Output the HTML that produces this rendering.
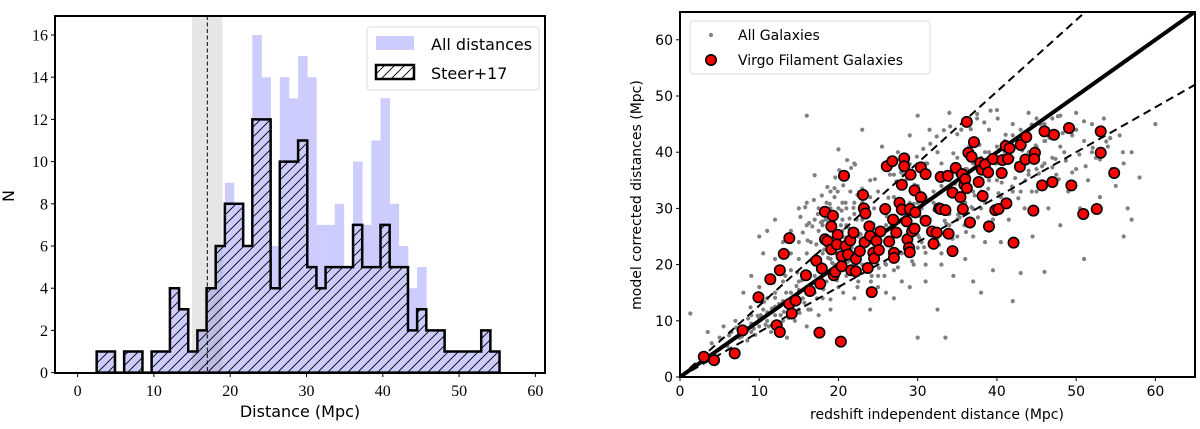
<!DOCTYPE html>
<html><head><meta charset="utf-8"><style>
html,body{margin:0;padding:0;background:#fff;}
svg{display:block;}
.serif{font-family:"Liberation Serif",serif;}
.sans{font-family:"DejaVu Sans","Liberation Sans",sans-serif;}
</style></head><body>
<svg id="fig" width="1200" height="429" viewBox="0 0 1200 429" xmlns="http://www.w3.org/2000/svg">
<defs>
<pattern id="hatch" patternUnits="userSpaceOnUse" width="10" height="10">
<path d="M-2,12 L12,-2 M-7,7 L7,-7 M3,17 L17,3" stroke="#000" stroke-width="0.9"/>
</pattern>
<clipPath id="clipR"><rect x="680" y="12" width="515" height="365"/></clipPath>
</defs>
<g id="left"></g>
<g id="right"></g>
</svg>
<script>
// ---- Left histogram data ----
const binStart = 2.5;
const binWidth = 1.2;
const steerCounts = [1,1,0,1,1,0,1,1,4,3,1,2,4,6,8,8,6,12,12,4,10,10,11,5,4,5,5,5,7,5,5,7,5,5,2,3,2,2,1,1,1,1,2,1];
const allCounts = [1,1,0,1,1,0,1,1,4,3,1,2,4,6,9,8,6,16,14,6,14,13,15,14,7,7,8,5,10,7,11,13,8,6,4,5,2,2,1,1,1,1,2,1];
const histXTicks = [0,10,20,30,40,50,60];
const histYTicks = [0,2,4,6,8,10,12,14,16];
const bandRange = [15,19];
const markerDistance = 17;

// ---- Right scatter data ----
const virgoX = [3.0,4.3,6.9,7.9,9.9,11.4,12.2,12.6,12.6,13.1,13.8,13.8,14.1,14.6,15.9,16.4,17.2,17.6,17.7,17.9,18.3,18.3,18.6,19.1,19.1,19.3,19.4,19.6,19.9,19.8,20.3,20.4,20.4,20.7,20.9,21.2,21.6,21.5,21.9,22.2,22.2,22.7,23.1,23.2,23.4,23.3,23.7,23.9,24.0,24.2,24.4,24.5,24.8,25.1,25.3,25.9,26.1,26.4,26.8,26.9,27.0,27.0,27.3,27.7,28.0,28.0,28.3,28.3,28.6,28.7,28.9,29.0,29.0,29.1,29.3,29.6,29.6,29.7,30.4,30.4,31.0,31.0,31.8,32.0,32.4,32.7,32.9,32.9,33.5,33.8,33.9,34.4,34.4,34.8,35.4,35.6,35.7,35.9,36.0,36.2,36.2,36.4,36.6,36.8,37.1,37.7,37.9,38.1,38.2,38.5,38.9,39.0,39.5,39.8,40.2,40.6,40.7,41.1,41.2,41.4,41.6,42.1,42.9,43.0,43.6,43.7,44.6,44.8,44.7,45.7,46.0,47.0,47.2,49.1,49.4,50.9,52.6,53.1,53.1,54.8];
const virgoY = [3.6,3.0,4.2,8.3,14.2,17.4,9.2,8.0,19.0,21.9,24.7,13.0,11.3,13.6,18.1,15.3,20.7,7.9,16.6,19.3,29.4,24.5,24.2,22.7,26.8,28.7,18.1,18.7,25.3,23.6,6.3,21.5,19.7,35.8,23.3,21.8,19.0,24.3,25.7,21.0,18.8,22.4,32.4,30.0,29.1,24.0,19.4,26.8,25.1,15.1,22.1,21.1,24.2,22.6,25.9,29.9,37.5,24.1,38.4,28.0,22.1,21.2,25.7,31.0,34.2,29.8,38.9,37.5,27.7,24.5,23.0,29.9,22.2,36.0,25.9,26.4,33.2,29.3,37.3,32.0,36.1,27.8,25.9,23.7,25.7,30.0,35.6,29.9,29.7,35.8,25.5,22.4,32.8,37.2,32.0,36.1,29.9,34.2,35.2,45.4,33.6,39.9,27.5,39.2,41.8,34.7,38.1,36.9,32.2,37.8,36.4,26.8,38.8,29.7,29.9,36.3,38.6,41.1,30.9,38.8,40.7,23.9,37.4,41.3,38.7,42.7,29.6,39.9,38.8,34.1,43.7,34.7,43.1,44.3,34.1,29.0,29.9,43.7,39.9,36.3];
const allX = [1.3,3.5,4,5,6,5.5,6.5,7,7.5,8,8.5,9,9,9.5,10,10.5,10,11,11,11.5,12,12,12.5,13,13,13.5,14,14,14.5,15,15,15,15.5,16,16,16,16.5,16.5,17,17,17,17.5,17.5,18,18,18,18.5,18.5,19,19,19,19.5,19.5,20,20,20,20.5,20.5,21,21,21,21.5,21.5,22,22,22,22.5,22.5,23,23,23,23.5,24,24,24.5,24.5,25,25,25.5,25.5,26,26,26.5,26.5,27,27,27.5,27.5,28,28,28.5,28.5,29,29,29.5,29.5,30,30,30,30.5,30.5,31,31,31.5,31.5,32,32,32.5,32.5,33,33,33.5,33.5,34,34,34.5,34.5,35,35,35.5,35.5,36,36,36.5,36.5,37,37,37.5,37.5,38,38,38.5,38.5,39,39,39.5,39.5,40,40,40.5,40.5,41,41,41.5,42,42,42,42.5,43,43,43.5,44,44,44.5,45,45,45.5,46,46,46.5,47,47.5,48,48,48.5,49,49.5,50,50,50.5,51,51,51.5,52,52.5,53,53.5,54,54.5,55,55.5,56,56,56.5,57,57,58,60,20,21,22,23,24,25,26,27,28,29,30,31,32,33,34,35,36,37,38,39,40,41,42,43,44,45,46,47,18,19,17,16,15,14,13,12,11,10,9,8,18,19,20,18.5,19.5,20.5,21,17.5,22,23,24,26,28,27,33,36,38,40,42,44,46,48,50,52,35,37,39,41,43,45,47,26,28,30,32,34,25,27,29,31,33,14,13,12,11,12,14,15,16,16,13,15,10.5,9,8,10];
const allY = [11.3,8,6,7,5.5,9,8,10,7,9,6.5,8,11,7.5,9,12,16,10,14,8,11,15,13,10,17,7,15,19,10,12,17,21,14,9,18,46.5,12,24,15,20,28,11,30,14,22,27,17,31,12,26,33,20,29,16,40.5,24,31,28,18,36,27,22,33,14,29,38,25,17,44,31,20,27,35,12,23,30,18,33,41,26,15,29,36,22,19,32,40,26,17,29,35,23,43,31,20,27,46.5,34,7,24,30,38,20,28,44,33,25,12,40,30,22,36,7,27,47,33,18,39,25,30,44,35,21,41,28,33,17,46,37,30,15,40,24,35,44,28,19,47.5,38,32,24,42,36,28,45,33,13.5,38,18.5,42,30,47,36,25,41,33,45,38,18.7,30,43,36,46.5,27,40,33,43,37,47,30,21,42,35,45,39,32,46,41,37,34,43,38,25,30,40,28,35.5,45,21,23,22,24,26,25,27,28,30,29,31,32,31,34,35,36,37,38,39,40,41,40,43,44,43,46,45,46,20,21,18,16,15.5,13,13.5,12.5,11.5,10.5,9.5,8.5,30,30,30,28,32,26,30,26,31,28,32,37,34,36,38,31,33,35,39,40,42,41,44,40,28,25,26,31,33,37,39,20,22,23,26,29,16,14,16,17,20,22,24,21,26,28,26,30,31,27,19,24,22,18,15,25];
const extraX = [15.2,15.8,16.3,16.9,17.4,17.9,18.4,18.9,19.4,19.9,20.4,20.9,21.4,21.9,22.4,15.5,16.1,16.7,17.2,17.8,18.3,18.8,19.3,19.8,20.3,20.8,21.3,21.8,22.3,22.8,16.0,16.6,17.1,17.7,18.2,18.7,19.2,19.7,20.2,20.7,21.2,21.7,22.2,14.8,15.4,6.2,7.1,7.8,8.6,9.3,10.2,10.8,11.6,12.3,13.1,13.7,14.3,15.1,15.7,16.2,9.8,10.6,11.2,12.0,12.7,13.4,14.0,14.7,8.9,11.8,13.3,17.3,18.1,19.0,19.8,20.6,21.5,22.4,23.3,24.1,25.0,25.8,26.7,27.5,23.6,24.4,25.3,26.1,27.0,27.8,28.7,29.5,30.4,31.2,32.1,33.0,33.8,34.7,35.5,36.4,37.2,38.1,38.9,39.8,40.6,41.5,42.3,43.2,44.0,44.9,45.7,46.6,47.4,48.3,29.1,30.0,30.8,31.7,32.5,33.4,34.2,35.1,35.9,36.8,37.6,38.5,39.3,40.2,41.0,41.9,42.7,43.6,44.4,45.3,46.1,47.0,47.8,48.7,49.5,50.4,51.2,52.1,53.0,53.8,27.3,28.2,29.0,29.9,30.7,31.6,32.4,33.3,34.1,35.0,35.8,36.7,37.5,38.4,39.2,40.1,24.2,25.1,25.9,26.8,27.6,28.5,29.3,30.2,31.0,31.9,32.7,33.6,34.4,35.3,36.1,37.0,23.0,24.6,26.3,27.9,29.6,31.2,32.9,34.5,36.2,37.8,39.5,41.1,42.8,44.4,46.1,47.7,49.4,51.0,52.7,54.3,55.9,18.6,19.6,20.6,21.6,22.6,17.0,18.0,19.5,20.1,21.1,22.1,23.1];
const extraY = [28.5,30.2,27.4,31.5,29.0,32.3,28.1,30.8,27.0,33.0,29.6,31.0,28.2,30.1,32.4,25.7,24.3,26.8,23.6,27.5,25.0,24.2,26.1,23.0,27.0,24.8,26.5,23.7,28.0,25.4,22.0,20.8,21.6,19.7,22.7,21.2,20.3,22.0,19.3,21.5,20.5,23.0,19.9,18.6,17.2,7.4,8.8,7.2,10.4,8.6,11.0,9.3,12.2,9.8,11.6,10.5,12.8,11.4,13.2,12.0,10.9,13.4,9.0,14.1,11.0,15.0,12.6,16.2,12.4,16.8,18.0,14.0,15.6,13.8,17.2,15.0,18.6,16.0,19.5,17.0,21.0,18.0,21.8,19.5,25.5,27.2,24.0,28.6,26.0,29.5,27.1,30.8,28.5,31.6,29.7,33.0,30.2,34.4,31.5,35.8,32.3,36.9,33.5,38.0,34.6,39.1,35.4,40.3,36.7,41.2,37.5,42.6,38.8,43.4,24.0,25.3,23.1,26.4,24.7,27.8,25.9,28.9,27.0,30.2,28.4,31.0,29.5,32.7,30.6,33.9,31.8,35.0,33.0,36.2,34.1,37.3,35.2,38.5,36.4,39.6,37.5,40.8,38.7,41.9,34.8,36.0,37.9,39.2,40.6,41.5,42.8,43.9,44.6,43.2,45.7,44.1,46.8,45.3,47.4,46.0,18.0,19.4,20.2,21.6,22.3,23.4,20.6,24.8,22.1,26.0,23.5,27.3,24.6,28.4,25.8,29.9,33.5,35.2,31.9,36.4,34.2,38.0,35.1,39.8,37.0,41.3,38.9,43.1,40.6,44.9,42.0,46.4,43.5,45.5,44.0,42.5,40.0,33.8,35.5,34.1,37.2,32.9,35.9,27.7,33.6,36.8,38.6,37.8];
const scatterTicks = [0,10,20,30,40,50,60];
const upperSlope = 1.27;
const lowerSlope = 0.80;

const NS = 'http://www.w3.org/2000/svg';
function mk(parent, tag, attrs, text){
  const e = document.createElementNS(NS, tag);
  for (const k in attrs) e.setAttribute(k, attrs[k]);
  if (text !== undefined) e.textContent = text;
  parent.appendChild(e);
  return e;
}

// ===== LEFT =====
const L = document.getElementById('left');
const xL = v => 77.6 + 7.63 * v;
const yL = n => 372.6 - 21.1 * n;
const LB = {x0:55, x1:545, y0:16, y1:373};

allCounts.forEach((c, i) => {
  if (c <= 0) return;
  const x0 = xL(binStart + i * binWidth), x1 = xL(binStart + (i + 1) * binWidth);
  const r = mk(L, 'rect', {x:x0, y:yL(c), width:x1 - x0 + 0.3, height:yL(0) - yL(c), fill:'#ccccff'});
  
  
});

const band = mk(L, 'rect', {x:xL(bandRange[0]), y:LB.y0, width:xL(bandRange[1]) - xL(bandRange[0]), height:LB.y1 - LB.y0, fill:'#808080', 'fill-opacity':'0.2'});



let d = 'M' + xL(binStart) + ',' + yL(0);
steerCounts.forEach((c, i) => {
  const x0 = xL(binStart + i * binWidth), x1 = xL(binStart + (i + 1) * binWidth);
  d += ' L' + x0 + ',' + yL(c) + ' L' + x1 + ',' + yL(c);
});
d += ' L' + xL(binStart + steerCounts.length * binWidth) + ',' + yL(0) + ' Z';
const steer = mk(L, 'path', {d:d, fill:'url(#hatch)', stroke:'#000', 'stroke-width':'2.5', 'stroke-linejoin':'miter'});



const vl = mk(L, 'line', {x1:xL(markerDistance), x2:xL(markerDistance), y1:LB.y0, y2:LB.y1, stroke:'#000', 'stroke-width':'1', 'stroke-dasharray':'4,2.5'});



const fl = mk(L, 'rect', {x:LB.x0, y:LB.y0, width:LB.x1 - LB.x0, height:LB.y1 - LB.y0, fill:'none', stroke:'#000', 'stroke-width':'2'});



histXTicks.forEach(v => {
  mk(L, 'line', {x1:xL(v), x2:xL(v), y1:LB.y1, y2:LB.y1 + 4, stroke:'#000', 'stroke-width':'1'});
  const t = mk(L, 'text', {x:xL(v), y:396, 'text-anchor':'middle', 'font-size':'16', class:'serif'}, String(v));
  
  
});
histYTicks.forEach(v => {
  mk(L, 'line', {x1:LB.x0 - 4, x2:LB.x0, y1:yL(v), y2:yL(v), stroke:'#000', 'stroke-width':'1'});
  const t = mk(L, 'text', {x:48, y:yL(v) + 5.5, 'text-anchor':'end', 'font-size':'16', class:'serif'}, String(v));
  
  
});
const lxl = mk(L, 'text', {x:300, y:417, 'text-anchor':'middle', 'font-size':'16', class:'sans'}, 'Distance (Mpc)');


const lyl = mk(L, 'text', {x:14, y:196, 'text-anchor':'middle', 'font-size':'16', class:'sans', transform:'rotate(-90 14 196)'}, 'N');



const lg = mk(L, 'g', {});


mk(lg, 'rect', {x:367, y:27, width:172, height:63, rx:3, fill:'#fff', 'fill-opacity':'0.85', stroke:'#ddd', 'stroke-width':'1'});
mk(lg, 'rect', {x:376, y:36, width:38, height:14, fill:'#ccccff'});
const le1 = mk(lg, 'text', {x:431, y:50, 'font-size':'16', class:'sans'}, 'All distances');


mk(lg, 'rect', {x:376, y:65, width:38, height:14, fill:'url(#hatch)', stroke:'#000', 'stroke-width':'2.5'});
const le2 = mk(lg, 'text', {x:431, y:79, 'font-size':'16', class:'sans'}, 'Steer+17');



// ===== RIGHT =====
const R = document.getElementById('right');
const xR = v => 680 + 7.923 * v;
const yR = v => 377 - 5.62 * v;
const RB = {x0:680, x1:1195, y0:12, y1:377};

const pts = mk(R, 'g', {'clip-path':'url(#clipR)'});


allX.forEach((v, i) => {
  const c = mk(pts, 'circle', {cx:xR(v), cy:yR(allY[i]), r:2.1, fill:'#808080'});
  
  
});
extraX.forEach((v, i) => {
  const c = mk(pts, 'circle', {cx:xR(v), cy:yR(extraY[i]), r:2.1, fill:'#808080'});
  
  
});

const lines = mk(R, 'g', {'clip-path':'url(#clipR)'});
const one = mk(lines, 'line', {x1:xR(0), y1:yR(0), x2:xR(65), y2:yR(65), stroke:'#000', 'stroke-width':'4'});


const up = mk(lines, 'line', {x1:xR(0), y1:yR(0), x2:xR(65), y2:yR(65 * upperSlope), stroke:'#000', 'stroke-width':'2', 'stroke-dasharray':'8,5'});


const lo = mk(lines, 'line', {x1:xR(0), y1:yR(0), x2:xR(65), y2:yR(65 * lowerSlope), stroke:'#000', 'stroke-width':'2', 'stroke-dasharray':'8,5'});



const vg = mk(R, 'g', {'clip-path':'url(#clipR)'});


virgoX.forEach((v, i) => {
  const c = mk(vg, 'circle', {cx:xR(v), cy:yR(virgoY[i]), r:5.2, fill:'#ff0000', stroke:'#000', 'stroke-width':'1.6'});
  
  
});

const rf = mk(R, 'rect', {x:RB.x0, y:RB.y0, width:RB.x1 - RB.x0, height:RB.y1 - RB.y0, fill:'none', stroke:'#000', 'stroke-width':'2'});



scatterTicks.forEach(v => {
  mk(R, 'line', {x1:xR(v), x2:xR(v), y1:RB.y1, y2:RB.y1 + 4, stroke:'#000', 'stroke-width':'1'});
  const t = mk(R, 'text', {x:xR(v), y:396, 'text-anchor':'middle', 'font-size':'14', class:'sans'}, String(v));
  
  
  mk(R, 'line', {x1:RB.x0 - 4, x2:RB.x0, y1:yR(v), y2:yR(v), stroke:'#000', 'stroke-width':'1'});
  const u = mk(R, 'text', {x:673, y:yR(v) + 5, 'text-anchor':'end', 'font-size':'14', class:'sans'}, String(v));
  
  
});
const rxl = mk(R, 'text', {x:937, y:419, 'text-anchor':'middle', 'font-size':'14', class:'sans'}, 'redshift independent distance (Mpc)');


const ryl = mk(R, 'text', {x:641, y:195, 'text-anchor':'middle', 'font-size':'14', class:'sans', transform:'rotate(-90 641 195)'}, 'model corrected distances (Mpc)');



const rg = mk(R, 'g', {});


mk(rg, 'rect', {x:690, y:21, width:240, height:53, rx:3, fill:'#fff', 'fill-opacity':'0.85', stroke:'#ddd', 'stroke-width':'1'});
mk(rg, 'circle', {cx:711, cy:35, r:2.1, fill:'#808080'});
const re1 = mk(rg, 'text', {x:738, y:40, 'font-size':'14', class:'sans'}, 'All Galaxies');


mk(rg, 'circle', {cx:711, cy:60, r:5.2, fill:'#ff0000', stroke:'#000', 'stroke-width':'1.6'});
const re2 = mk(rg, 'text', {x:738, y:65, 'font-size':'14', class:'sans'}, 'Virgo Filament Galaxies');


</script>
</body></html>
